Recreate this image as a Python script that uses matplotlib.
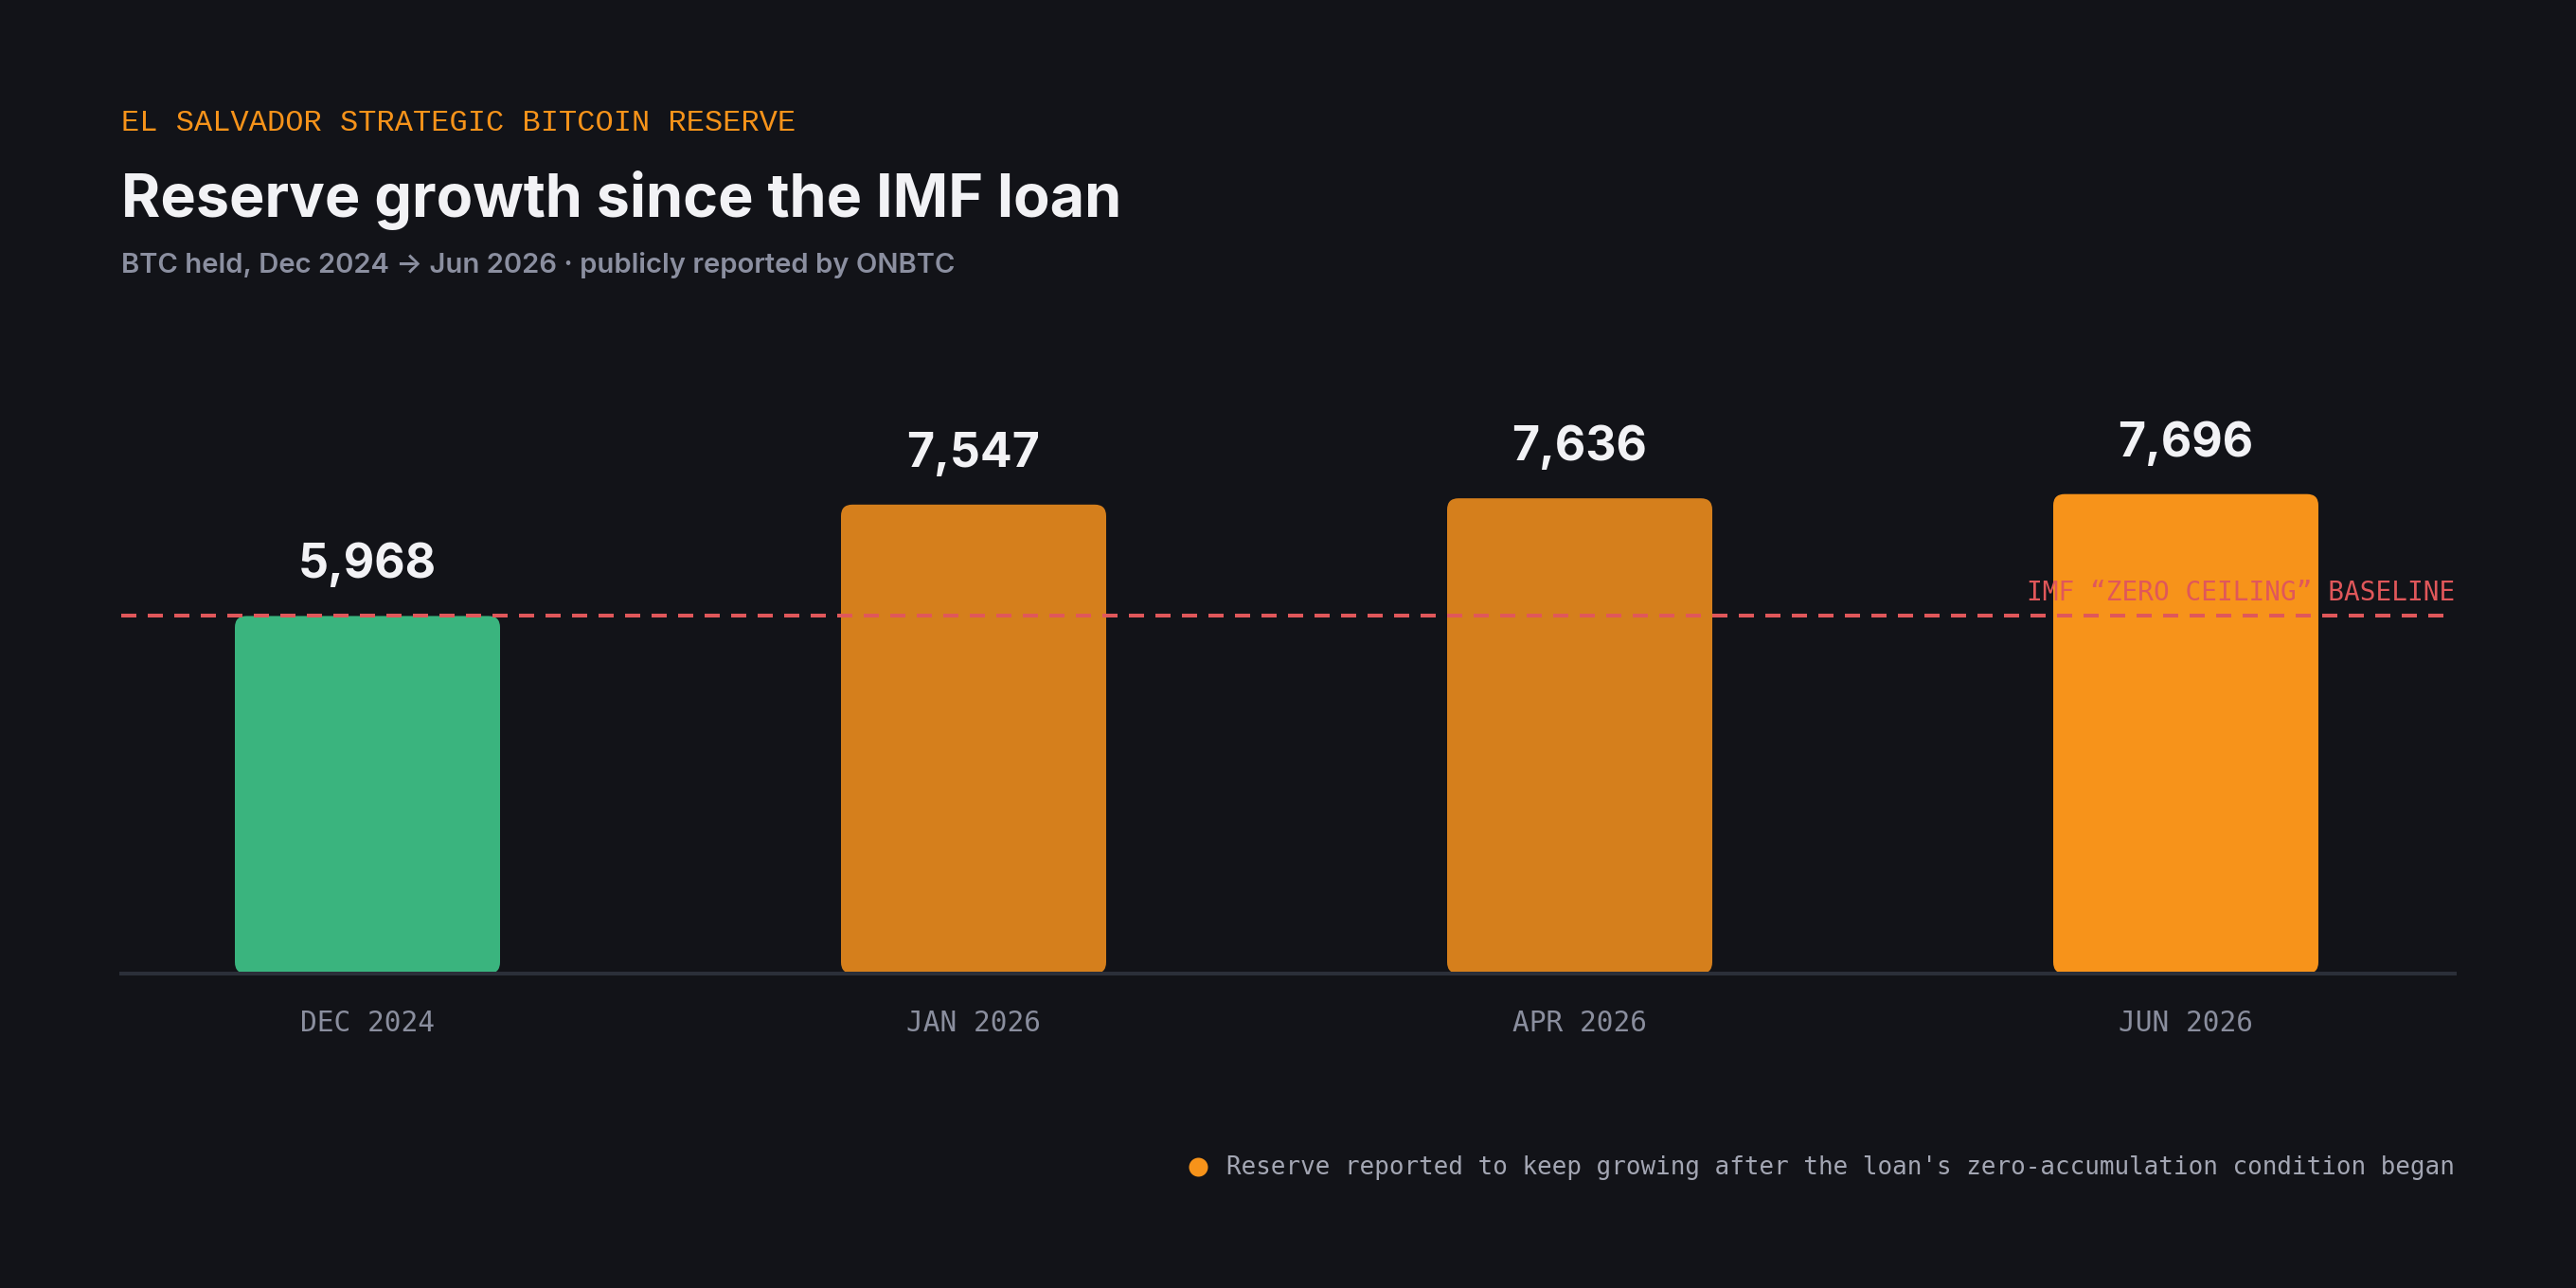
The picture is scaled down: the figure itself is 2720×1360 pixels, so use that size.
import matplotlib
matplotlib.use("Agg")
import matplotlib.pyplot as plt
import matplotlib.transforms as mtransforms
from matplotlib.patches import FancyBboxPatch
from matplotlib.lines import Line2D
import numpy as np

# ---- data ----
categories = ["DEC 2024", "JAN 2026", "APR 2026", "JUN 2026"]
btc_held = [5968, 7547, 7636, 7696]
baseline_value = 5968
bar_colors = ["#3AB47E", "#D57F1C", "#D57F1C", "#F7931A"]

kicker = "EL SALVADOR STRATEGIC BITCOIN RESERVE"
title = "Reserve growth since the IMF loan"
subtitle = "BTC held, Dec 2024 \u2192 Jun 2026 \u00b7 publicly reported by ONBTC"
baseline_label = "IMF \u201cZERO CEILING\u201d BASELINE"
footnote = "Reserve reported to keep growing after the loan's zero-accumulation condition began"

# ---- style ----
BG = "#121318"
W, H, DPI = 2720, 1360, 200
PT = 72.0 / DPI  # points per pixel

fig = plt.figure(figsize=(W / DPI, H / DPI), dpi=DPI, facecolor=BG)
renderer = fig.canvas.get_renderer()

def px(x, y):
    return x / W, 1 - y / H

def fit_width(t, target_px):
    for _ in range(4):
        bb = t.get_window_extent(renderer=renderer)
        t.set_fontsize(t.get_fontsize() * target_px / bb.width)
    return t

# axes in pixel geometry
ax_left, ax_right, ax_bottom, ax_top = 128, 2592, 1028, 300
ax = fig.add_axes([ax_left / W, (H - ax_bottom) / H, (ax_right - ax_left) / W, (ax_bottom - ax_top) / H])
ax.set_facecolor("none")

xpos = np.arange(len(categories))
ymin = 900
px_per_unit = 0.0745
ymax = ymin + (ax_bottom - ax_top) / px_per_unit
ax.set_xlim(-0.40625, 3.44375)
ax.set_ylim(ymin, ymax)
for s in ax.spines.values():
    s.set_visible(False)
ax.set_yticks([])

bar_w = 0.4375
px_per_x = (ax_right - ax_left) / (3.44375 + 0.40625)
r_px = 12
r_x = r_px / px_per_x
aspect = px_per_x / px_per_unit
for xi, v, c in zip(xpos, btc_held, bar_colors):
    p = FancyBboxPatch((xi - bar_w / 2, ymin), bar_w, v - ymin,
                       boxstyle=f"round,pad=0,rounding_size={r_x}",
                       mutation_aspect=aspect, facecolor=c, edgecolor="none", zorder=2)
    ax.add_patch(p)
    ax.annotate(f"{v:,}", xy=(xi, v), xytext=(0, 40 * PT), textcoords="offset points",
                ha="center", va="baseline", color="#F2F2F5", fontsize=50 * PT,
                fontfamily="Inter", fontweight="bold", zorder=5)

# x axis line
ax.axhline(ymin, color="#2B2F39", lw=4 * PT, zorder=3, clip_on=False)

# baseline dashed
ax.axhline(baseline_value, color="#E0575A", lw=4 * PT, linestyle=(0, (4, 3)), zorder=4)
ax.annotate(baseline_label, xy=(1.0, baseline_value),
            xycoords=mtransforms.blended_transform_factory(ax.transAxes, ax.transData),
            xytext=(0, 16 * PT), textcoords="offset points", ha="right", va="baseline",
            color="#E0575A", fontsize=27.8 * PT, fontfamily="DejaVu Sans Mono", zorder=5)

# tick labels
ax.set_xticks(xpos)
ax.set_xticklabels(categories, fontfamily="DejaVu Sans Mono", fontsize=29.6 * PT, color="#8A8E9E")
ax.tick_params(axis="x", length=0, pad=38 * PT)

# header texts
x0, y0 = px(128, 138)
t = fig.text(x0, y0, kicker, color="#F7931A", fontfamily="Liberation Mono",
             fontsize=30 * PT, va="baseline", ha="left")
fit_width(t, 712)
x0, y0 = px(128, 229)
t = fig.text(x0, y0, title, color="#F2F2F5", fontfamily="Inter", fontweight="bold",
             fontsize=62 * PT, va="baseline", ha="left")
fit_width(t, 1056)
x0, y0 = px(128, 288)
t = fig.text(x0, y0, subtitle, color="#8B8FA0", fontfamily="Inter", fontweight="semibold",
             fontsize=28 * PT, va="baseline", ha="left")
fit_width(t, 880)

# footnote
x0, y0 = px(2592, 1240)
t = fig.text(x0, y0, footnote, color="#A3A6B3", fontfamily="DejaVu Sans Mono",
             fontsize=26 * PT, va="baseline", ha="right")
fit_width(t, 1293)
bb = t.get_window_extent(renderer=renderer)
dx = bb.x0 - 30
dot = Line2D([dx / W], [1 - 1232 / H], marker="o", markersize=20 * PT,
             markerfacecolor="#F7931A", markeredgecolor="none", transform=fig.transFigure)
fig.add_artist(dot)

fig.savefig("out.png", dpi=DPI, facecolor=BG)
